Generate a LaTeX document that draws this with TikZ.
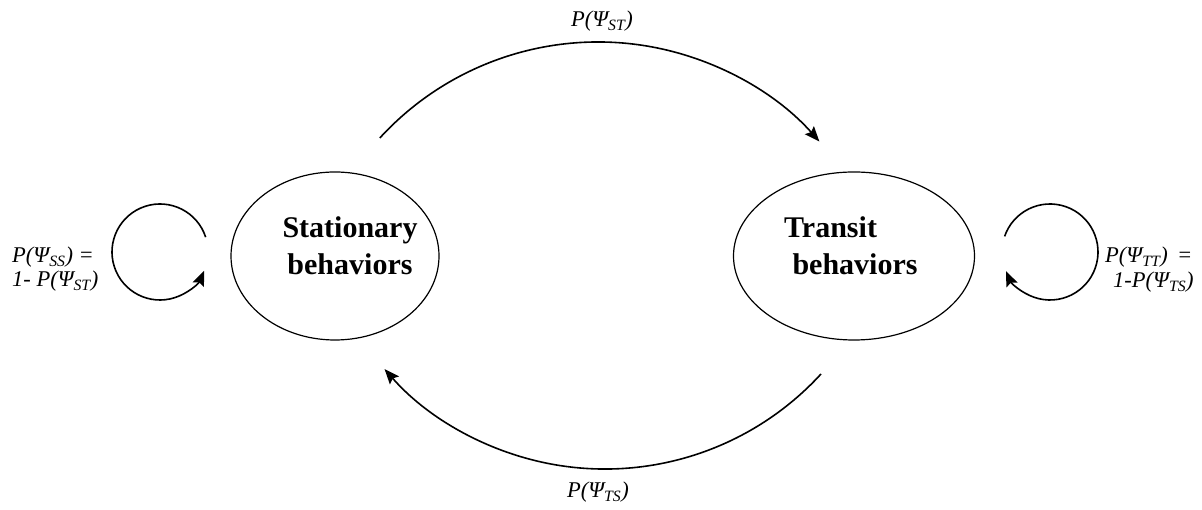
\documentclass[tikz,border=0pt]{standalone}
\usepackage{fontspec}
\setmainfont{Liberation Serif}
\usetikzlibrary{arrows.meta,shapes.geometric}
\begin{document}
\begin{tikzpicture}[x=1pt,y=1pt,
  state/.style={draw, ellipse, line width=1.2pt, inner sep=0pt},
  stxt/.style={font=\fontsize{30}{36}\selectfont\bfseries, inner sep=0pt},
  lbl/.style={font=\fontsize{22.5}{24}\selectfont\itshape, inner sep=0pt},
  conn/.style={line width=1.6pt, -{Stealth[length=15pt,width=12pt,inset=2.5pt]}}
]
\useasboundingbox (0,0) rectangle (1202,510);
% states
\node[state, minimum width=208pt, minimum height=168pt] (S) at (335,254) {};
\node[state, minimum width=241pt, minimum height=168pt] (T) at (854,254) {};
\node[stxt, anchor=base] (s1) at (350,272) {Stationary};
\node[stxt, anchor=base] (s2) at (350,235) {behaviors};
\node[stxt, anchor=base west] (t1) at (784,272) {Transit};
\node[stxt, anchor=base] (t2) at (855,235) {behaviors};
% connector ends
\coordinate (a1) at (379.8,372);
\coordinate (b1) at (821,136);
\coordinate (l1) at (160,258);
\coordinate (r1) at (1050,258);
% transitions
\draw[conn] (a1) arc[start angle=137.5, end angle=41.6, radius=296];
\draw[conn] (b1) arc[start angle=-42.5, end angle=-138.8, radius=293];
% self loops
\draw[conn] ([shift={(18:48)}]l1) arc[start angle=18, end angle=337, radius=48];
\draw[conn] ([shift={(161:48)}]r1) arc[start angle=161, end angle=-156.5, radius=48];
% labels
\node[lbl, anchor=base] (pst) at (602,483) {P(Ψ\textsubscript{ST})};
\node[lbl, anchor=base] (pts) at (598,12) {P(Ψ\textsubscript{TS})};
\node[lbl, anchor=base west] (pss1) at (12,247) {P(Ψ\textsubscript{SS}) =};
\node[lbl, anchor=base west] (pss2) at (12,223) {1- P(Ψ\textsubscript{ST})};
\node[lbl, anchor=base west] (ptt1) at (1105,247) {P(Ψ\textsubscript{TT})\, =};
\node[lbl, anchor=base west] (ptt2) at (1113,222) {1-P(Ψ\textsubscript{TS})};
\end{tikzpicture}
\end{document}
